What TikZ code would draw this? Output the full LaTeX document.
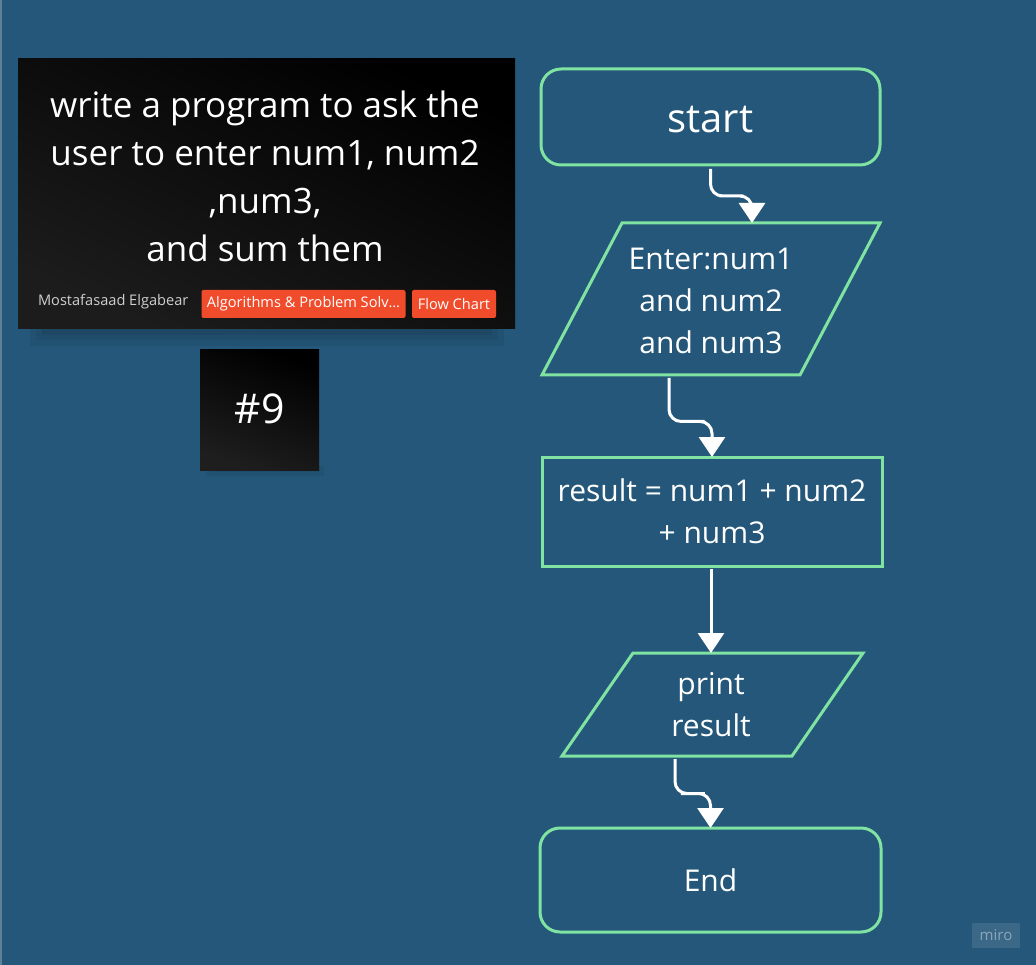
\documentclass[tikz,border=0pt]{standalone}
\usepackage{fontspec}
\setmainfont{Open Sans}
\usetikzlibrary{arrows.meta,calc}
\definecolor{bg}{HTML}{245779}
\definecolor{mint}{HTML}{80E3A2}
\definecolor{tagred}{HTML}{F04B2B}
\definecolor{authorgray}{HTML}{CFCFCF}
\definecolor{edgeblue}{HTML}{5F8099}
\definecolor{mirotext}{HTML}{8AA6BA}
\begin{document}
\begin{tikzpicture}[x=1pt,y=-1pt,
  every node/.style={inner sep=0pt, outer sep=0pt},
  term/.style={draw=mint, line width=3pt, rounded corners=20pt, fill=bg, text=white,
    font=\fontsize{30}{42}\selectfont, align=center},
  procbox/.style={draw=mint, line width=3pt, fill=bg, text=white,
    font=\fontsize{30}{42}\selectfont, align=center},
  iobox/.style={text=white, font=\fontsize{30}{42}\selectfont, align=center},
  ioline/.style={draw=mint, line width=3pt, line join=miter},
  arr/.style={draw=white, line width=3pt, rounded corners=12pt,
    -{Triangle[width=26pt,length=20pt]}},
  card/.style={draw=none},
  tag/.style={fill=tagred, rounded corners=2pt, text=white, font=\fontsize{14.6}{16}\selectfont}
]
% background
\fill[bg] (0,0) rectangle (1036,965);
\useasboundingbox (0,0) rectangle (1036,965);
\draw[edgeblue, line width=1.5pt] (0.75,0) -- (0.75,965);

% title card shadow
\fill[black, opacity=0.05] (30,326) rectangle (504,346);
\fill[black, opacity=0.06] (36,326) rectangle (498,340);
\fill[black, opacity=0.07] (42,326) rectangle (492,335);
\fill[black, opacity=0.05] (206,466) rectangle (324,476);
\fill[black, opacity=0.06] (210,466) rectangle (320,472);
% title card
\shade[top color=black, bottom color={rgb,255:red,28;green,28;blue,28}, shading angle=-25]
  (18,59) rectangle (515,329);
\node[card, minimum width=497pt, minimum height=270pt] (card) at (266.5,194) {};
\node[text=white, font=\fontsize{35}{48}\selectfont, align=center] (title) at (265,176)
  {write a program to ask the\\user to enter num1, num2\\,num3,\\and sum them};
\node[anchor=west, text=authorgray, font=\fontsize{14.6}{16}\selectfont] (author) at (38,302) {Mostafasaad Elgabear};
\node[tag, minimum width=204pt, minimum height=28pt] (tag1) at (303.5,304) {Algorithms \& Problem Solv…};
\node[tag, minimum width=84pt, minimum height=28pt] (tag2) at (454,304) {Flow Chart};

% #9 card
\shade[top color=black, bottom color={rgb,255:red,30;green,30;blue,30}, shading angle=-20]
  (200,350) rectangle (319,470);
\node[text=white, font=\fontsize{41}{46}\selectfont] (num) at (259.5,409) {\#9};

% flowchart
\node[term, minimum width=339pt, minimum height=96pt] (start) at (710.5,117) {};
\node[text=white, font=\fontsize{40}{46}\selectfont] (starttext) at (710.5,120) {start};

\node[minimum width=258pt, minimum height=152pt] (in1) at (711,299) {};
\draw[ioline] ([xshift=40pt]in1.north west) -- ([xshift=40pt]in1.north east)
  -- ([xshift=-40pt]in1.south east) -- ([xshift=-40pt]in1.south west) -- cycle;
\node[iobox] (in1text) at (711,301) {Enter:num1\\and num2\\and num3};

\node[procbox, minimum width=340pt, minimum height=109pt] (calc) at (712,511.5)
  {result = num1 + num2\\+ num3};

\node[minimum width=230pt, minimum height=103pt] (pr) at (712.5,704.5) {};
\draw[ioline] ([xshift=35.5pt]pr.north west) -- ([xshift=35.5pt]pr.north east)
  -- ([xshift=-35.5pt]pr.south east) -- ([xshift=-35.5pt]pr.south west) -- cycle;
\node[iobox] (prtext) at (711,705) {print\\result};

\node[term, minimum width=341pt, minimum height=104pt] (end) at (710.5,880) {End};

% connectors
\coordinate (a1s) at ([yshift=-4pt]start.south);
\coordinate (a1e) at ([xshift=41pt]in1.north);
\draw[arr] (a1s) |- ($(a1s)!0.5!(a1e)$) -| (a1e);

\coordinate (a2s) at ([xshift=-42pt,yshift=-3pt]in1.south);
\coordinate (a2e) at (calc.north);
\draw[arr] (a2s) |- ($(a2s)!0.55!(a2e)$) -| (a2e);

\coordinate (a3s) at ([xshift=-1pt,yshift=-3pt]calc.south);
\draw[arr] (a3s) -- (a3s |- pr.north);

\coordinate (a4s) at ([xshift=-37.5pt,yshift=-3pt]pr.south);
\coordinate (a4e) at (end.north);
\draw[arr] (a4s) |- ($(a4s)!0.5!(a4e)$) -| (a4e);

% miro badge
\fill[white, opacity=0.10] (972,923) rectangle (1020,948);
\node[text=mirotext, font=\fontsize{15}{16}\selectfont] (miro) at (996,935.5) {miro};
\end{tikzpicture}
\end{document}
